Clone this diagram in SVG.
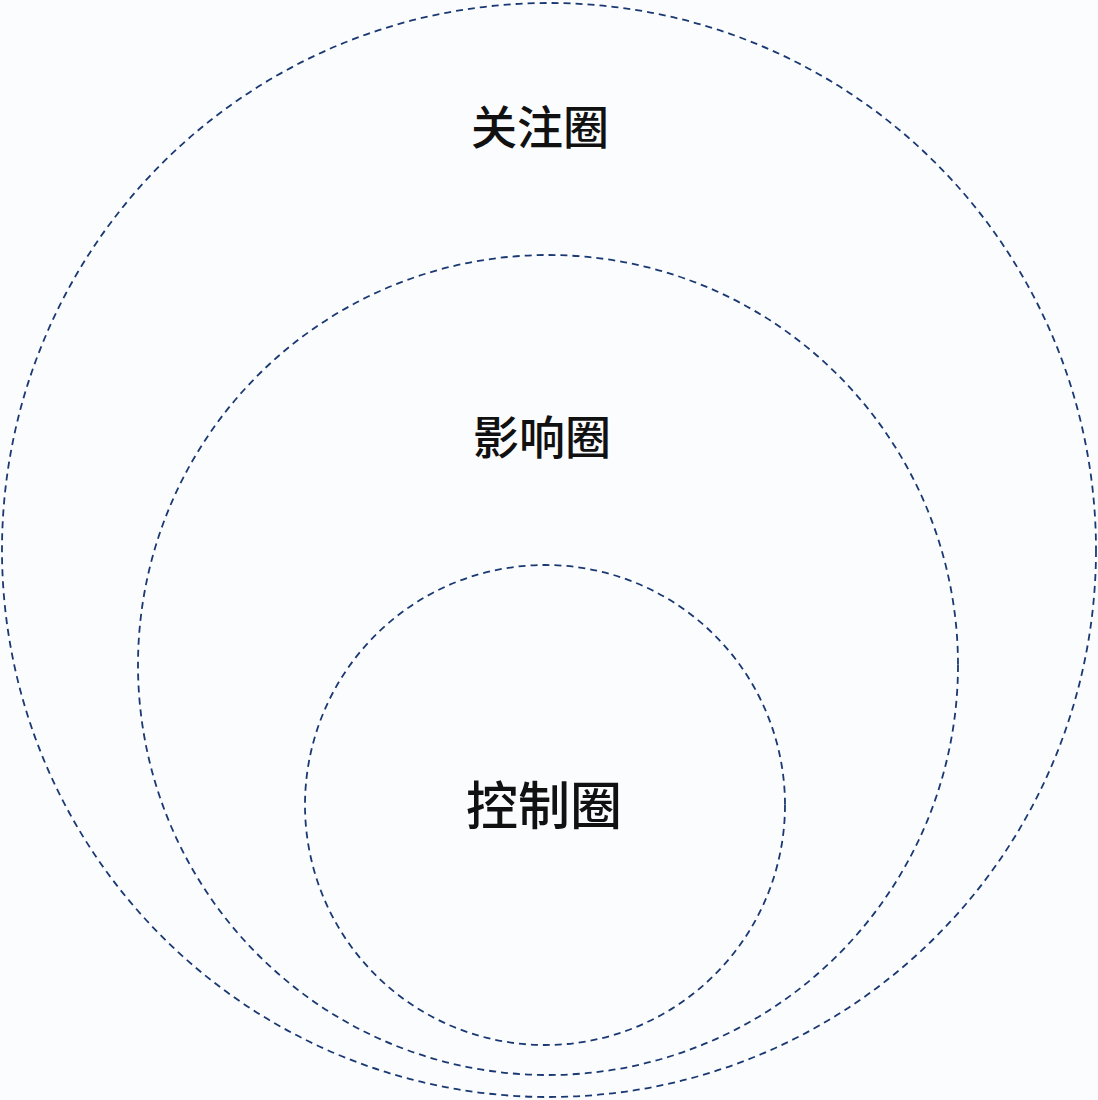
<svg xmlns="http://www.w3.org/2000/svg" width="1098" height="1100" viewBox="0 0 1098 1100">
<style>
.ring{fill:none;stroke:#1a3872;stroke-width:1.8;stroke-dasharray:7 5}
.lbl{font-family:"Noto Sans CJK SC","Noto Sans",sans-serif;font-weight:500;fill:#111;text-anchor:middle;dominant-baseline:central}
</style>
<rect width="1098" height="1100" fill="#fbfcfe"/>
<g id="concern"><circle class="ring" cx="549" cy="550" r="547"/><text class="lbl" x="540" y="124" font-size="46">关注圈</text></g>
<g id="influence"><circle class="ring" cx="548" cy="665" r="410"/><text class="lbl" x="542" y="434" font-size="46">影响圈</text></g>
<g id="control"><circle class="ring" cx="545" cy="805" r="240"/><text class="lbl" x="544" y="802" font-size="52">控制圈</text></g>
<g id="connectors"/>
</svg>
